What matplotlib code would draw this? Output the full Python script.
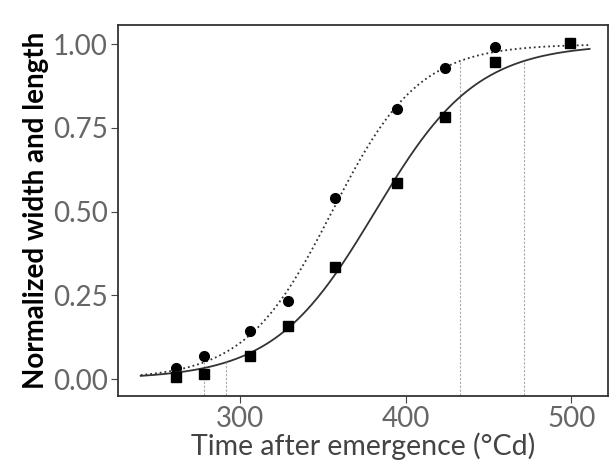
import numpy as np
import matplotlib
matplotlib.use('Agg')
import matplotlib.pyplot as plt

# time after emergence (degree days)
time_cd = [261, 278, 306, 329, 357, 395, 424, 454, 499]
# normalized leaf width (circles) and length (squares)
width_norm = [0.034, 0.070, 0.143, 0.233, 0.541, 0.807, 0.930, 0.992, 1.002]
length_norm = [0.007, 0.016, 0.069, 0.160, 0.335, 0.586, 0.783, 0.947, 1.004]

x_ticks = [300, 400, 500]
y_ticks = [0.00, 0.25, 0.50, 0.75, 1.00]


def logistic(x, mid, scale):
    return 1.0 / (1.0 + np.exp(-(x - mid) / scale))


def fit_logistic(x, y):
    # brute force least squares, no scipy here
    x = np.asarray(x, float)
    y = np.asarray(y, float)
    mids = np.arange(300, 420, 0.5)
    scales = np.arange(15, 50, 0.1)
    M, S = np.meshgrid(mids, scales, indexing='ij')
    pred = logistic(x[None, None, :], M[..., None], S[..., None])
    err = ((pred - y) ** 2).sum(axis=-1)
    i, j = np.unravel_index(err.argmin(), err.shape)
    return mids[i], scales[j]


plt.rcParams['font.family'] = ['Lato', 'DejaVu Sans']

fig = plt.figure(figsize=(6.09, 4.70), dpi=100)
ax = fig.add_axes([0.193, 0.157, 0.805, 0.789])

xs = np.linspace(240, 511, 300)
for y, style, marker in [(width_norm, ':', 'o'), (length_norm, '-', 's')]:
    mid, scale = fit_logistic(time_cd, y)
    ax.plot(xs, logistic(xs, mid, scale), linestyle=style, color='#333333', lw=1.3)
    ax.plot(time_cd, y, linestyle='none', marker=marker, color='black', ms=7)
    # 5 % and 95 % of final size
    off = scale * np.log(19)
    for xv, yv in [(mid - off, 0.05), (mid + off, 0.95)]:
        ax.plot([xv, xv], [-0.06, yv], color='#a8a8a8', lw=0.8, linestyle='--', dashes=(2, 1.5))

ax.set_xlim(226, 522)
ax.set_ylim(-0.051, 1.056)
ax.set_xticks(x_ticks)
ax.set_yticks(y_ticks)
ax.set_yticklabels([f'{v:.2f}' for v in y_ticks])
ax.tick_params(labelsize=20, labelcolor='#666666', color='#444444', length=5, width=0.8, pad=2)

for sp in ax.spines.values():
    sp.set_color('#333333')
    sp.set_linewidth(1.3)

ax.set_xlabel('Time after emergence (°Cd)', fontsize=20.5, color='#444444', labelpad=0)
ax.set_ylabel('Normalized width and length', fontsize=20, fontweight='bold', color='black', labelpad=3)

fig.savefig('out.png', dpi=100)
